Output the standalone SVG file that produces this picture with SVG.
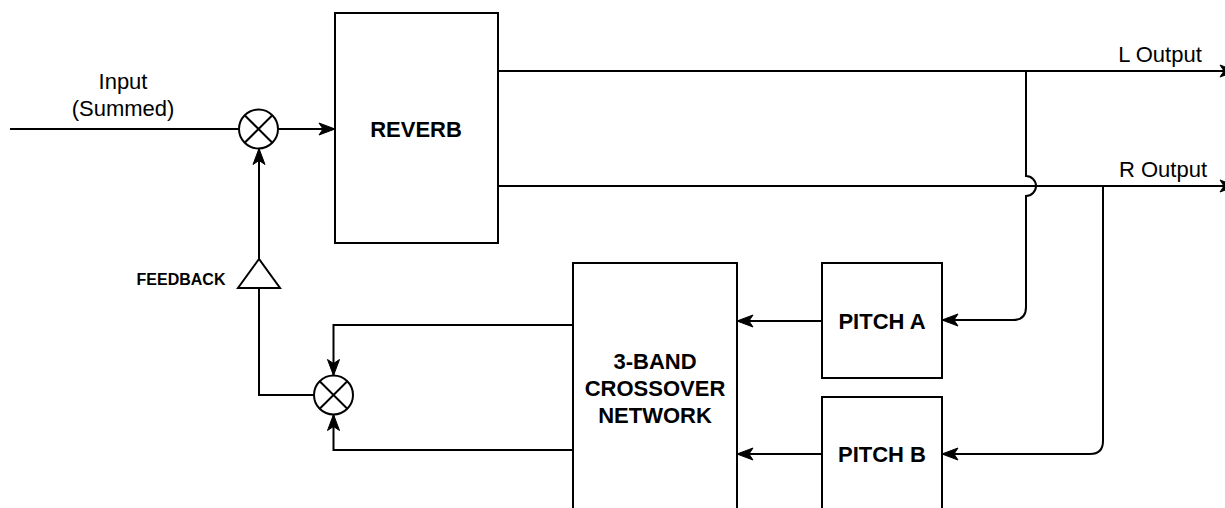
<svg xmlns="http://www.w3.org/2000/svg" width="1225" height="508" viewBox="0 0 1225 508">
<style>
.box{fill:#fff;stroke:#000;stroke-width:2}
.ln{fill:none;stroke:#000;stroke-width:2}
.t{font-family:"Liberation Sans",Arial,sans-serif;font-size:22px;fill:#000;text-anchor:middle}
.b{font-weight:bold}
</style>
<defs>
<marker id="ar" markerUnits="userSpaceOnUse" markerWidth="18" markerHeight="14" refX="16" refY="7" orient="auto" overflow="visible">
<path d="M16,7 L0,1 L4,7 L0,13 Z" fill="#000" stroke="#000" stroke-width="1"/>
</marker>
</defs>
<rect width="1225" height="508" fill="#fff"/>
<g id="connectors">
<path class="ln" d="M10,129 L238.5,129"/>
<path class="ln" d="M278,129 L335,129" marker-end="url(#ar)"/>
<path class="ln" d="M498,71 L1236,71" marker-end="url(#ar)"/>
<path class="ln" d="M498,186 L1236,186" marker-end="url(#ar)"/>
<path class="ln" d="M1026,71 L1026,176 A10,10 0 0 1 1026,196 L1026,307 Q1026,320 1013,320 L942,320" marker-end="url(#ar)"/>
<path class="ln" d="M1103,186 L1103,441 Q1103,454 1090,454 L942,454" marker-end="url(#ar)"/>
<path class="ln" d="M822,321 L737,321" marker-end="url(#ar)"/>
<path class="ln" d="M822,454 L737,454" marker-end="url(#ar)"/>
<path class="ln" d="M573,325 L333.5,325 L333.5,375.5" marker-end="url(#ar)"/>
<path class="ln" d="M573,450 L333.5,450 L333.5,414.5" marker-end="url(#ar)"/>
<path class="ln" d="M314,395 L259,395 L259,288"/>
<path class="ln" d="M259,259 L259,148.5" marker-end="url(#ar)"/>
</g>
<g id="input-label">
<text class="t" x="123" y="89">Input</text>
<text class="t" x="123" y="116">(Summed)</text>
</g>
<g id="sum1">
<circle class="box" cx="258.5" cy="129" r="19.5"/>
<path class="ln" d="M244.7,115.2 L272.3,142.8 M272.3,115.2 L244.7,142.8"/>
</g>
<g id="sum2">
<circle class="box" cx="333.5" cy="395" r="19.5"/>
<path class="ln" d="M319.7,381.2 L347.3,408.8 M347.3,381.2 L319.7,408.8"/>
</g>
<g id="feedback">
<path class="box" d="M259,259 L238,288 L280,288 Z"/>
<text class="t b" x="181" y="285" style="font-size:16px">FEEDBACK</text>
</g>
<g id="reverb">
<rect class="box" x="335" y="13" width="163" height="230"/>
<text class="t b" x="416" y="137">REVERB</text>
</g>
<g id="crossover">
<rect class="box" x="573" y="263" width="164" height="260"/>
<text class="t b" x="655" y="369">3-BAND</text>
<text class="t b" x="655" y="396">CROSSOVER</text>
<text class="t b" x="655" y="423">NETWORK</text>
</g>
<g id="pitchA">
<rect class="box" x="822" y="263" width="120" height="115"/>
<text class="t b" x="882" y="329">PITCH A</text>
</g>
<g id="pitchB">
<rect class="box" x="822" y="397" width="120" height="125"/>
<text class="t b" x="882" y="462">PITCH B</text>
</g>
<g id="outputs">
<text class="t" x="1160" y="62">L Output</text>
<text class="t" x="1163" y="177">R Output</text>
</g>
</svg>
